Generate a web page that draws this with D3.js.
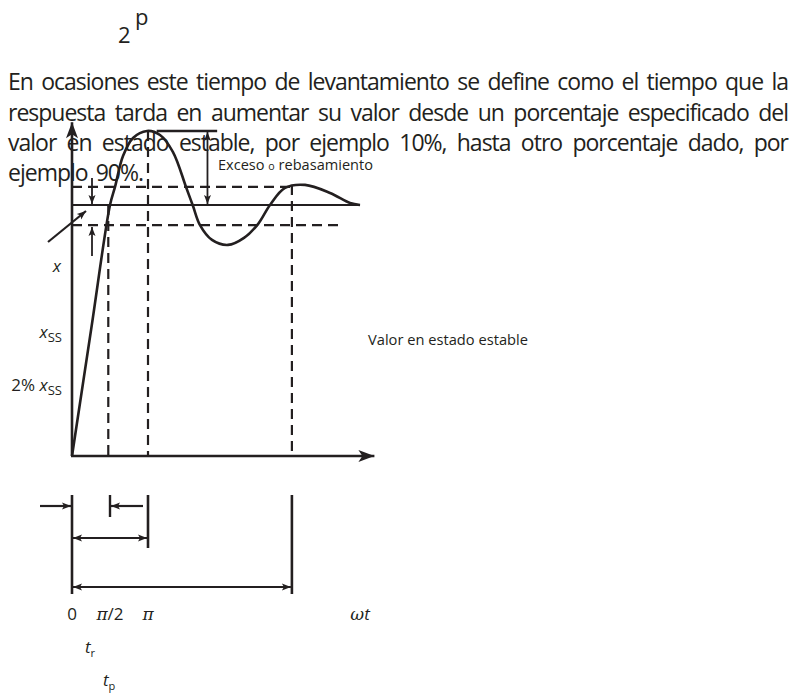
<!DOCTYPE html>
<html>
<head>
<meta charset="utf-8">
<script src="https://cdn.jsdelivr.net/npm/d3@7"></script>
<style>
body{margin:0;background:#fff}
svg{display:block}
text{font-family:"Open Sans",sans-serif;fill:#231f20}
</style>
</head>
<body>
<svg id="svg" width="799" height="698"></svg>
<script>
var paragraph=["En ocasiones este tiempo de levantamiento se define como el tiempo que la",
               "respuesta tarda en aumentar su valor desde un porcentaje especificado del",
               "valor en estado estable, por ejemplo 10%, hasta otro porcentaje dado, por",
               "ejemplo 90%."];

// response curve, t in rad (wt), value relative to x_ss
var curveT=[0,0.8,1.571,1.778,2.108,2.522,3.10,3.638,4.175,4.713,5.002,5.291,5.787,6.449,7.11,7.689,8.185,8.805,9.632,10.665,11.492,11.906];
var curveV=[0,0.51,1.0,1.072,1.195,1.267,1.295,1.279,1.211,1.072,0.996,0.920,0.861,0.841,0.869,0.924,1.0,1.068,1.08,1.048,1.008,1.0];

var steadyLevel=1;
var bandLevels=[1.072,0.92];       // upper, lower dashed band
var bandEnds=[9.09,11.2];
var peakLevel=1.295;
var markT=[1.5,Math.PI,9.09];      // dashed verticals
var markTop=[1,1.295,1.08];
var tickValues=[0,Math.PI/2,Math.PI];
var tickLabels=["0","π/2","π"];
var axisEnd=[12.5,1.33];

var ink="#231f20";
var svg=d3.select("#svg");

var x=d3.scaleLinear().domain([0,Math.PI]).range([72,148]);
var y=d3.scaleLinear().domain([0,1]).range([456,205]);

var defs=svg.append("defs");
function marker(id,len,half,notch){
    defs.append("marker")
        .attr("id",id)
        .attr("markerUnits","userSpaceOnUse")
        .attr("viewBox",(-len-1)+" "+(-half-1)+" "+(len+2)+" "+(2*half+2))
        .attr("markerWidth",len+2)
        .attr("markerHeight",2*half+2)
        .attr("refX",0).attr("refY",0)
        .attr("orient","auto-start-reverse")
      .append("path")
        .attr("d","M0,0L"+(-len)+","+(-half)+"L"+(-len+notch)+",0L"+(-len)+","+half+"Z")
        .attr("fill",ink);
}
marker("big",16,6,4);
marker("small",9,3.5,2);

//paragraph, justified word by word
var lineY=[90,121,151,181];
paragraph.forEach(function(line,i){
    var words=line.split(" ");
    var g=svg.append("g");
    var nodes=words.map(w=>g.append("text").attr("y",lineY[i])
        .style("font-size","23px").style("letter-spacing","-1px").text(w));
    var widths=nodes.map(n=>n.node().getComputedTextLength());
    var total=d3.sum(widths);
    var gap=i<paragraph.length-1 ? (788-8-total)/(words.length-1) : 8;
    var cx=8;
    nodes.forEach((n,j)=>{n.attr("x",cx);cx+=widths[j]+gap;});
});

svg.append("text").attr("x",118).attr("y",43).style("font-size","22px").text("2");
svg.append("text").attr("x",135).attr("y",25).style("font-size","22px").text("p");

//dashed guides
var dash="10,6";
bandLevels.forEach(function(v,i){
    svg.append("line")
        .attr("x1",x(0)).attr("x2",x(bandEnds[i]))
        .attr("y1",y(v)).attr("y2",y(v))
        .attr("stroke",ink).attr("stroke-width",2.2).attr("stroke-dasharray",dash);
});
markT.forEach(function(t,i){
    svg.append("line")
        .attr("x1",x(t)).attr("x2",x(t))
        .attr("y1",y(markTop[i])).attr("y2",y(0))
        .attr("stroke",ink).attr("stroke-width",2.2).attr("stroke-dasharray",dash);
});

//steady line
svg.append("line")
    .attr("x1",x(0)).attr("x2",x(curveT[curveT.length-1]))
    .attr("y1",y(steadyLevel)).attr("y2",y(steadyLevel))
    .attr("stroke",ink).attr("stroke-width",2.2);

//axes
svg.append("line")
    .attr("x1",x(0)).attr("y1",y(0)).attr("x2",x(0)).attr("y2",y(axisEnd[1]))
    .attr("stroke",ink).attr("stroke-width",2.6).attr("marker-end","url(#big)");
svg.append("line")
    .attr("x1",x(0)-1).attr("y1",y(0)).attr("x2",x(axisEnd[0])).attr("y2",y(0))
    .attr("stroke",ink).attr("stroke-width",2.6).attr("marker-end","url(#big)");

//response curve
var pts=curveT.map((t,i)=>[t,curveV[i]]);
svg.append("path")
    .datum(pts)
    .attr("d",d3.line().x(d=>x(d[0])).y(d=>y(d[1])).curve(d3.curveCatmullRom.alpha(0.5)))
    .attr("fill","none").attr("stroke",ink).attr("stroke-width",2.6);

//overshoot
svg.append("line")
    .attr("x1",x(3.5)).attr("x2",x(6.0))
    .attr("y1",y(peakLevel)).attr("y2",y(peakLevel))
    .attr("stroke",ink).attr("stroke-width",2.6);
svg.append("line")
    .attr("x1",x(5.6)).attr("x2",x(5.6))
    .attr("y1",y(peakLevel)+1).attr("y2",y(steadyLevel)-1)
    .attr("stroke",ink).attr("stroke-width",1.8)
    .attr("marker-start","url(#small)").attr("marker-end","url(#small)");
var ex=svg.append("text").attr("x",218).attr("y",170).style("font-size","15px")
    .attr("textLength",155).attr("lengthAdjust","spacingAndGlyphs");
ex.append("tspan").text("Exceso ");
ex.append("tspan").style("font-size","11px").text("o");
ex.append("tspan").text(" rebasamiento");

//band arrows at left
svg.append("line")
    .attr("x1",92).attr("x2",92).attr("y1",178).attr("y2",y(steadyLevel)-1)
    .attr("stroke",ink).attr("stroke-width",1.8).attr("marker-end","url(#small)");
svg.append("line")
    .attr("x1",92).attr("x2",92).attr("y1",256).attr("y2",y(bandLevels[1])+2)
    .attr("stroke",ink).attr("stroke-width",1.8).attr("marker-end","url(#small)");
svg.append("line")
    .attr("x1",48).attr("y1",242).attr("x2",86).attr("y2",211)
    .attr("stroke",ink).attr("stroke-width",2.2).attr("marker-end","url(#small)");

svg.append("text").attr("x",368).attr("y",345).style("font-size","15px")
    .attr("textLength",160).attr("lengthAdjust","spacingAndGlyphs").text("Valor en estado estable");

//y labels
svg.append("text").attr("x",61).attr("y",272).attr("text-anchor","end")
    .style("font-size","17px").style("font-style","italic").text("x");
var xs=svg.append("text").attr("x",62).attr("y",338).attr("text-anchor","end").style("font-size","17px");
xs.append("tspan").style("font-style","italic").text("x");
xs.append("tspan").attr("dy",4).style("font-size","13px").text("SS");
var xs2=svg.append("text").attr("x",62).attr("y",391).attr("text-anchor","end").style("font-size","17px");
xs2.append("tspan").text("2% ");
xs2.append("tspan").style("font-style","italic").text("x");
xs2.append("tspan").attr("dy",4).style("font-size","13px").text("SS");

//time intervals below
var top0=495;
[0,9.09].forEach(function(t){
    svg.append("line").attr("x1",x(t)).attr("x2",x(t)).attr("y1",top0).attr("y2",594)
        .attr("stroke",ink).attr("stroke-width",2.6);
});
svg.append("line").attr("x1",x(Math.PI)).attr("x2",x(Math.PI)).attr("y1",top0).attr("y2",548)
    .attr("stroke",ink).attr("stroke-width",2.6);
svg.append("line").attr("x1",x(Math.PI/2)).attr("x2",x(Math.PI/2)).attr("y1",top0).attr("y2",517)
    .attr("stroke",ink).attr("stroke-width",2.4);
svg.append("line").attr("x1",40).attr("x2",x(0)-1).attr("y1",506).attr("y2",506)
    .attr("stroke",ink).attr("stroke-width",2.2).attr("marker-end","url(#small)");
svg.append("line").attr("x1",x(Math.PI)-5).attr("x2",x(Math.PI/2)+1).attr("y1",506).attr("y2",506)
    .attr("stroke",ink).attr("stroke-width",2.2).attr("marker-end","url(#small)");
svg.append("line").attr("x1",x(0)+1).attr("x2",x(Math.PI)-1).attr("y1",538).attr("y2",538)
    .attr("stroke",ink).attr("stroke-width",2.2)
    .attr("marker-start","url(#small)").attr("marker-end","url(#small)");
svg.append("line").attr("x1",x(0)+1).attr("x2",x(9.09)-1).attr("y1",587).attr("y2",587)
    .attr("stroke",ink).attr("stroke-width",2.2)
    .attr("marker-start","url(#small)").attr("marker-end","url(#small)");

//tick labels
var tl=svg.append("g").style("font-size","17px");
tickValues.forEach(function(t,i){
    var tx=tl.append("text").attr("x",x(t)).attr("y",620).attr("text-anchor","middle");
    tickLabels[i].split("").forEach(function(c){
        var s=tx.append("tspan").text(c);
        if(c==="π") s.style("font-family","'DejaVu Serif',serif").style("font-style","italic");
    });
});
var wt=tl.append("text").attr("x",360).attr("y",620).attr("text-anchor","middle");
wt.append("tspan").style("font-family","'DejaVu Serif',serif").style("font-style","italic").text("ω");
wt.append("tspan").style("font-style","italic").text("t");

var tr=svg.append("text").attr("x",85).attr("y",653).style("font-size","17px");
tr.append("tspan").style("font-style","italic").text("t");
tr.append("tspan").attr("dy",4).style("font-size","11px").text("r");
var tp=svg.append("text").attr("x",103).attr("y",686).style("font-size","17px");
tp.append("tspan").style("font-style","italic").text("t");
tp.append("tspan").attr("dy",4).style("font-size","11px").text("p");
</script>
</body>
</html>
